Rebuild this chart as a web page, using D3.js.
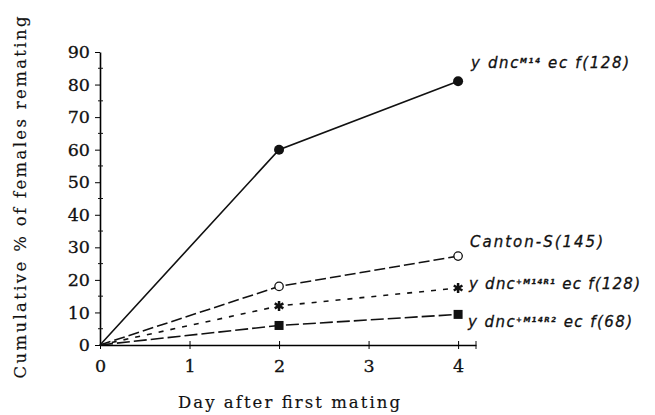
<!DOCTYPE html>
<html>
<head>
<meta charset="utf-8">
<script src="https://cdn.jsdelivr.net/npm/d3@7"></script>
<style>
  body { margin: 0; background: #fff; }
  svg { display: block; }
</style>
</head>
<body>
<svg id="chart"></svg>
<script>
// days sampled and the four strains
const days = [0, 2, 4];
const m14 = [0, 60, 81];          // y dnc^M14 ec f (128)
const canton = [0, 18, 27.3];     // Canton-S (145)
const r1 = [0, 12, 17.5];         // y dnc^+M14R1 ec f (128)
const r2 = [0, 6, 9.4];           // y dnc^+M14R2 ec f (68)
const yTicks = [0, 10, 20, 30, 40, 50, 60, 70, 80, 90];
const xTicks = [0, 1, 2, 3, 4];

const width = 655, height = 415;
const margin = {top: 52, right: 180, bottom: 70, left: 100};

const svg = d3.select("#chart")
  .attr("width", width)
  .attr("height", height);

const x = d3.scaleLinear().domain([0, 4.2]).range([margin.left, 476]);
const y = d3.scaleLinear().domain([0, 90]).range([345, margin.top]);

const serif = "'DejaVu Serif', serif";

// y axis
const yAxis = svg.append("g").attr("transform", `translate(${x(0)},0)`)
  .call(d3.axisLeft(y).tickValues(yTicks).tickSize(5).tickSizeOuter(0));
yAxis.select(".domain").attr("stroke-width", 1.6);
yAxis.selectAll("text").attr("font-family", serif).attr("font-size", 17.5)
  .attr("fill", "#111").attr("stroke", "#111").attr("stroke-width", 0.3).attr("dx", "-2");
// minor ticks
svg.append("g").selectAll("line")
  .data(d3.range(5, 90, 10))
  .join("line")
  .attr("x1", x(0) - 2).attr("x2", x(0) + 3)
  .attr("y1", d => y(d)).attr("y2", d => y(d))
  .attr("stroke", "#111");

// x axis
const xAxis = svg.append("g").attr("transform", `translate(0,${y(0)})`)
  .call(d3.axisBottom(x).tickValues(xTicks).tickFormat(d3.format("d")).tickSize(4).tickSizeOuter(0));
xAxis.select(".domain").attr("stroke-width", 1.6);
xAxis.selectAll(".tick line").attr("y1", -4);
xAxis.selectAll("text").attr("font-family", serif).attr("font-size", 17.5)
  .attr("fill", "#111").attr("stroke", "#111").attr("stroke-width", 0.3).attr("dy", "1.15em");
svg.append("line")
  .attr("x1", x(4.2)).attr("x2", x(4.2))
  .attr("y1", y(0) - 4).attr("y2", y(0) + 4)
  .attr("stroke", "#111");

// axis titles
svg.append("text")
  .attr("transform", `translate(26,${(15 + 380) / 2}) rotate(-90)`)
  .attr("text-anchor", "middle")
  .attr("font-family", serif).attr("font-size", 16.5).attr("fill", "#111")
  .attr("stroke", "#111").attr("stroke-width", 0.15)
  .attr("textLength", 362).attr("lengthAdjust", "spacing")
  .text("Cumulative % of females remating");

svg.append("text")
  .attr("x", 289).attr("y", 408)
  .attr("text-anchor", "middle")
  .attr("font-family", serif).attr("font-size", 16.5).attr("fill", "#111")
  .attr("stroke", "#111").attr("stroke-width", 0.15)
  .attr("textLength", 222).attr("lengthAdjust", "spacing")
  .text("Day after first mating");

const series = [
  {name: "m14", values: m14, dash: null, marker: "circleFilled"},
  {name: "canton", values: canton, dash: "11,4", marker: "circleOpen"},
  {name: "r1", values: r1, dash: "5,7", marker: "star"},
  {name: "r2", values: r2, dash: "13,4", marker: "square"}
];

const line = d3.line()
  .x((d, i) => x(days[i]))
  .y(d => y(d));

svg.append("g").selectAll("path")
  .data(series)
  .join("path")
  .attr("d", d => line(d.values))
  .attr("fill", "none")
  .attr("stroke", "#111")
  .attr("stroke-width", 1.6)
  .attr("stroke-dasharray", d => d.dash);

// markers
series.forEach(s => {
  const g = svg.append("g");
  const pts = s.values.map((v, i) => ({x: x(days[i]), y: y(v)})).slice(1);
  if (s.marker === "circleFilled") {
    g.selectAll("circle").data(pts).join("circle")
      .attr("cx", d => d.x).attr("cy", d => d.y).attr("r", 5).attr("fill", "#111");
  } else if (s.marker === "circleOpen") {
    g.selectAll("circle").data(pts).join("circle")
      .attr("cx", d => d.x).attr("cy", d => d.y).attr("r", 4.2)
      .attr("fill", "#fff").attr("stroke", "#111").attr("stroke-width", 1.3);
  } else if (s.marker === "star") {
    g.selectAll("path").data(pts).join("path")
      .attr("transform", d => `translate(${d.x},${d.y})`)
      .attr("d", d3.symbol(d3.symbolAsterisk || d3.symbolCross, 70))
      .attr("fill", "#111").attr("stroke", "#111").attr("stroke-width", 2.5);
  } else {
    g.selectAll("rect").data(pts).join("rect")
      .attr("x", d => d.x - 4.5).attr("y", d => d.y - 4.5)
      .attr("width", 9).attr("height", 9).attr("fill", "#111");
  }
});

// series labels
const labelFont = "'DejaVu Sans', sans-serif";
const labels = [
  {x: 471, y: 68, len: 158, pre: "y dnc", sup: "M14", post: " ec f(128)"},
  {x: 470, y: 247, len: 133, pre: "Canton-S(145)", sup: "", post: ""},
  {x: 469, y: 289, len: 171, pre: "y dnc", sup: "+M14R1", post: " ec f(128)"},
  {x: 468, y: 327, len: 164, pre: "y dnc", sup: "+M14R2", post: " ec f(68)"}
];
labels.forEach(l => {
  const t = svg.append("text")
    .attr("x", l.x).attr("y", l.y)
    .attr("font-family", labelFont).attr("font-style", "italic")
    .attr("font-size", 15).attr("fill", "#111")
    .attr("stroke", "#111").attr("stroke-width", 0.3)
    .attr("textLength", l.len).attr("lengthAdjust", "spacing");
  t.append("tspan").text(l.pre);
  if (l.sup) {
    t.append("tspan").attr("dy", -5).attr("font-size", 7).attr("font-weight", "bold").text(l.sup);
    t.append("tspan").attr("dy", 5).text(l.post);
  }
});
</script>
</body>
</html>
